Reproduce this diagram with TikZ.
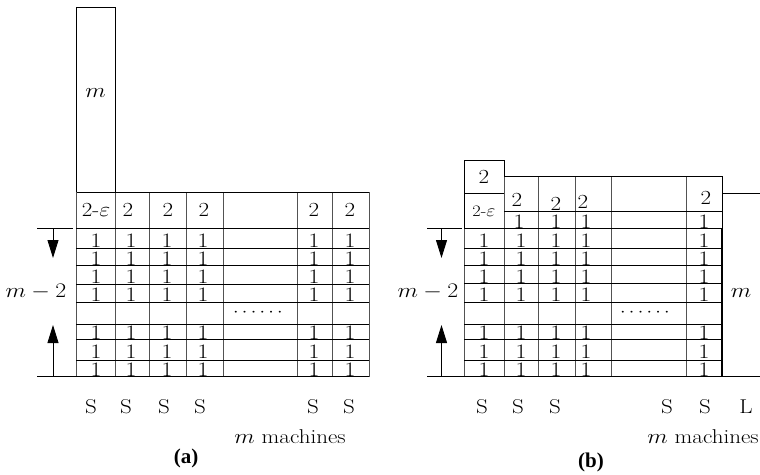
\documentclass[tikz,border=0pt]{standalone}
\usepackage{graphicx}
\usepackage{fontspec}
\usetikzlibrary{arrows.meta}
\newfontfamily\capfont{Liberation Serif}
% horizontally widened text, used for all labels
\newcommand{\wide}[1]{\scalebox{1.15}[1]{#1}}
\tikzset{
  hline/.style={line width=0.95pt, black},
  vline/.style={line width=0.95pt, black!68},
  lbl/.style={inner sep=0pt, font=\fontsize{20}{24}\selectfont},
  one/.style={inner sep=0pt, anchor=base, font=\fontsize{20.5}{24}\selectfont},
  small/.style={inner sep=0pt, font=\fontsize{16}{19}\selectfont},
  dotted row/.style={inner sep=0pt, font=\fontsize{16}{19}\selectfont},
  captext/.style={inner sep=0pt, font=\fontsize{21}{25}\capfont\bfseries},
  arr/.style={line width=0.9pt, -{Triangle[length=18pt,width=11pt]}},
}
\begin{document}
\begin{tikzpicture}[x=1pt,y=-1pt]
\useasboundingbox (0,0) rectangle (760,474);

% ===================== schedule (a) =====================
% long job of length m on top of the first machine
\draw[hline] (76,7) rectangle (115,192);
\node[lbl] (am) at (95.5,93) {\wide{$m$}};
% machine columns
\foreach \x in {76,115,149,186,223,297,332,369}
  \draw[vline] (\x,192) -- (\x,376.5);
% row boundaries
\draw[hline] (115,192) -- (369,192);
\foreach \y in {228,248,265.5,284,302,324,339,360}
  \draw[hline] (76,\y) -- (369,\y);
\draw[hline] (37,376.5) -- (369,376.5);
\draw[hline] (37,228) -- (73,228);
% jobs of size 2
\node[lbl] (ae) at (96,210) {\wide{2-$\varepsilon$}};
\foreach \x [count=\c] in {128,168,204,314,350}
  \node[lbl] (atwo\c) at (\x,210) {\wide{2}};
% unit jobs
\foreach \y [count=\r] in {247.5,265,283.5,301.5,339,358.5,376.5}
  \foreach \x [count=\c] in {96,131,167,203,314,350}
    \node[one] (aone\r\c) at (\x,\y) {\wide{1}};
\node[dotted row] (adots) at (258,313) {\wide{$\cdots\cdots$}};
% m-2 brace arrows
\coordinate (aat) at (53,228);
\coordinate (aah) at (53,258);
\coordinate (abt) at (53,376.5);
\coordinate (abh) at (53,325);
\draw[arr] (aat) -- (aah);
\draw[arr] (abt) -- (abh);
\node[lbl] (amm) at (36,292) {\wide{$m-2$}};
% machine labels
\foreach \x [count=\c] in {91,126,164,200,313,349}
  \node[lbl] (as\c) at (\x,407) {\wide{S}};
\node[lbl] (amach) at (290,437) {\wide{$m$ machines}};
\node[captext] (acap) at (186,458) {(a)};

% ===================== schedule (b) =====================
% first machine: 2-eps job with a size-2 job on top
\draw[hline] (464,160) rectangle (504,193.5);
\draw[hline] (464,193.5) rectangle (504,228);
\node[lbl] (bt) at (484,177) {\wide{2}};
\node[small] (be) at (484,211) {\wide{2-$\varepsilon$}};
% machine columns
\draw[vline] (464,228) -- (464,376.5);
\foreach \x in {504,538,575,611,686}
  \draw[vline] (\x,176) -- (\x,376.5);
\draw[hline] (504,176) -- (722,176);
\draw[hline] (504,211) -- (722,211);
\foreach \y in {228,248,265.5,283,302,324,339,360.5}
  \draw[hline] (464,\y) -- (722,\y);
\draw[hline] (427,228) -- (462,228);
\draw[hline] (427,376.5) -- (760,376.5);
% large machine
\draw[line width=0.95pt] (722,176) -- (722,228);
\draw[line width=2pt] (722,228) -- (722,376.5);
\draw[hline] (722,193.5) -- (760,193.5);
\node[lbl] (bm) at (741,293) {\wide{$m$}};
% jobs of size 2 and the unit jobs beneath them
\foreach \x/\y [count=\c] in {517/200,556/204,583/202,706/198}
  \node[lbl] (btwo\c) at (\x,\y) {\wide{2}};
\foreach \x [count=\c] in {519,556,586,704}
  \node[one] (btop\c) at (\x,228) {\wide{1}};
% unit jobs
\foreach \y [count=\r] in {247.5,265,283,301.5,339,358.5,376.5}
  \foreach \x [count=\c] in {484,521,556,586,704}
    \node[one] (bone\r\c) at (\x,\y) {\wide{1}};
\node[dotted row] (bdots) at (645,313) {\wide{$\cdots\cdots$}};
% m-2 brace arrows
\coordinate (bat) at (441.5,228);
\coordinate (bah) at (441.5,258);
\coordinate (bbt) at (441.5,376.5);
\coordinate (bbh) at (441.5,325);
\draw[arr] (bat) -- (bah);
\draw[arr] (bbt) -- (bbh);
\node[lbl] (bmm) at (428,292) {\wide{$m-2$}};
% machine labels
\foreach \x [count=\c] in {482,518,555,667,705}
  \node[lbl] (bs\c) at (\x,407) {\wide{S}};
\node[lbl] (bl) at (746,407) {\wide{L}};
\node[lbl] (bmach) at (703,437) {\wide{$m$ machines}};
\node[captext] (bcap) at (591,462) {(b)};
\end{tikzpicture}
\end{document}
